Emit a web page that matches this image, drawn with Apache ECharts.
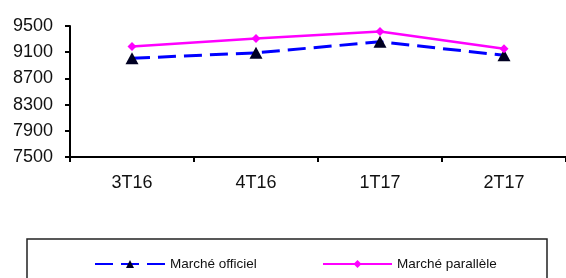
<!DOCTYPE html>
<html><head><meta charset="utf-8">
<script src="https://cdn.jsdelivr.net/npm/echarts@6/dist/echarts.min.js"></script>
<style>html,body{margin:0;padding:0;background:#fff}#c{width:566px;height:278px}</style>
</head><body><div id="c"></div>
<script>
var categories = ['3T16', '4T16', '1T17', '2T17'];
var officiel = [9007, 9091, 9259, 9053];
var parallele = [9187, 9309, 9416, 9152];
var yTicks = [7500, 7900, 8300, 8700, 9100, 9500];

var sans = '"Liberation Sans", Arial, sans-serif';
var chart = echarts.init(document.getElementById('c'));
chart.setOption({
  animation: false,
  grid: {left: 70, top: 26, width: 499, bottom: 121, containLabel: false},
  xAxis: {
    type: 'category', data: categories, boundaryGap: true,
    axisLine: {lineStyle: {color: '#000', width: 2}},
    axisTick: {show: true, length: 5, lineStyle: {color: '#000', width: 2}},
    axisLabel: {color: '#111', fontFamily: sans, fontSize: 18, margin: 17}
  },
  yAxis: {
    type: 'value', min: yTicks[0], max: yTicks[yTicks.length - 1], interval: 400,
    splitLine: {show: false},
    axisLine: {show: true, lineStyle: {color: '#000', width: 2}},
    axisTick: {show: true, length: 5, lineStyle: {color: '#000', width: 2}},
    axisLabel: {color: '#111', fontFamily: sans, fontSize: 18, margin: 17,
      formatter: function (v) { return String(v); }}
  },
  legend: [
    {left: 89, top: 252, data: ['Marché officiel'], itemWidth: 70, itemHeight: 10, itemGap: 0,
     textStyle: {fontFamily: sans, fontSize: 13.5, color: '#111'}, selectedMode: false},
    {left: 317, top: 252, data: ['Marché parallèle'], itemWidth: 69, itemHeight: 10, itemGap: 0,
     textStyle: {fontFamily: sans, fontSize: 13.5, color: '#111'}, selectedMode: false}
  ],
  graphic: [{type: 'rect', shape: {x: 27, y: 239, width: 520, height: 60},
    style: {fill: 'none', stroke: '#222', lineWidth: 1.5}, silent: true}],
  series: [
    {name: 'Marché officiel', type: 'line', data: officiel,
     symbol: 'triangle', symbolSize: [13, 12],
     lineStyle: {color: '#0000FF', width: 3, type: [18, 8]},
     itemStyle: {color: '#000022'}},
    {name: 'Marché parallèle', type: 'line', data: parallele,
     symbol: 'diamond', symbolSize: 9,
     lineStyle: {color: '#FF00FF', width: 2.5},
     itemStyle: {color: '#FF00FF'}}
  ]
});
</script></body></html>
